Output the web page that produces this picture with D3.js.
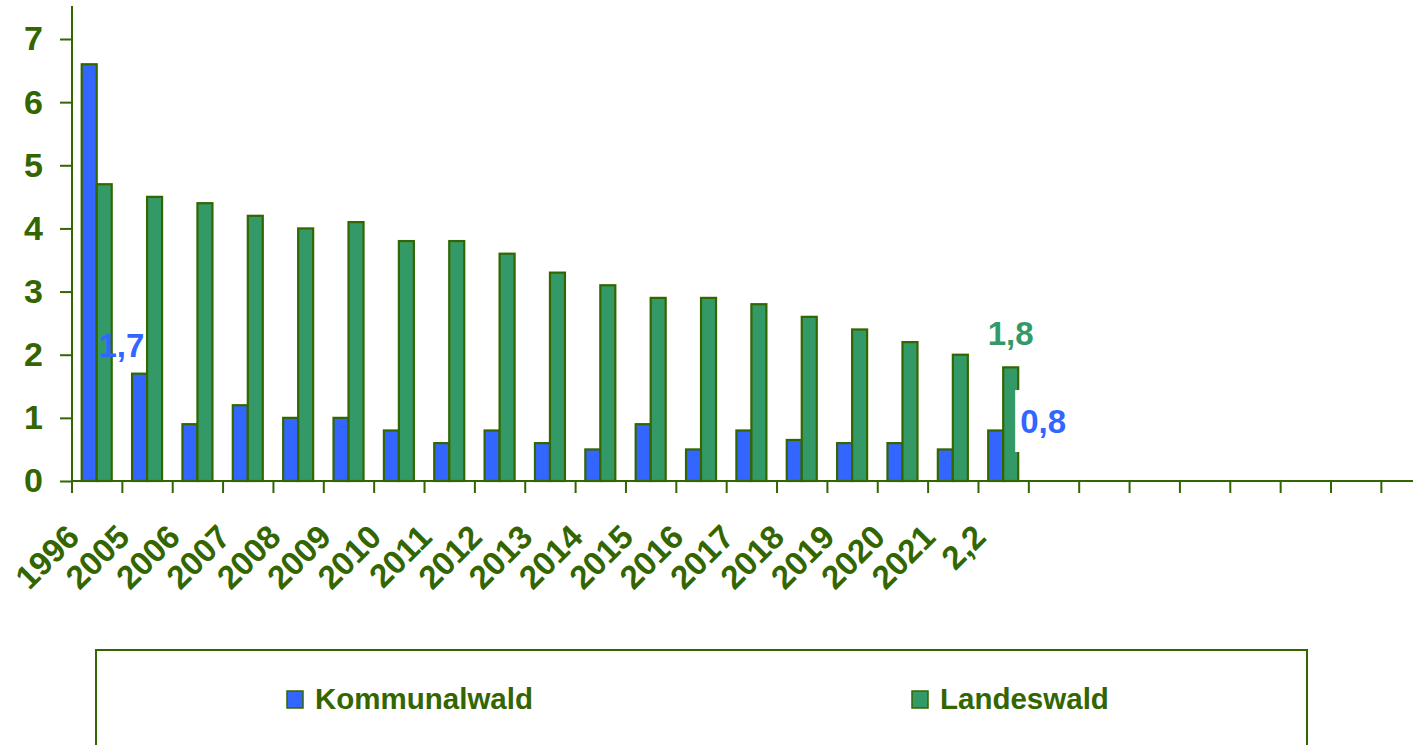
<!DOCTYPE html>
<html>
<head>
<meta charset="utf-8">
<script src="https://cdn.jsdelivr.net/npm/d3@7"></script>
<style>
  body { margin: 0; background: #fff; }
  svg { display: block; font-family: "Liberation Sans", Arial, sans-serif; font-weight: bold; }
</style>
</head>
<body>
<script>
// chart data
var categories = ["1996", "2005", "2006", "2007", "2008", "2009", "2010", "2011", "2012",
                  "2013", "2014", "2015", "2016", "2017", "2018", "2019", "2020", "2021", "2,2"];
var emptySlots = 8;
var kommunalwald = [6.6, 1.7, 0.9, 1.2, 1.0, 1.0, 0.8, 0.6, 0.8, 0.6, 0.5, 0.9, 0.5, 0.8, 0.65, 0.6, 0.6, 0.5, 0.8];
var landeswald   = [4.7, 4.5, 4.4, 4.2, 4.0, 4.1, 3.8, 3.8, 3.6, 3.3, 3.1, 2.9, 2.9, 2.8, 2.6, 2.4, 2.2, 2.0, 1.8];
var seriesNames = ["Kommunalwald", "Landeswald"];
var yTicks = [0, 1, 2, 3, 4, 5, 6, 7];

var svgWidth = 1413;
var svgHeight = 745;
var dark = "#336600";
var colors = {"Kommunalwald": "#3366FF", "Landeswald": "#339966"};

var svg = d3.select("body").append("svg")
            .attr("width", svgWidth)
            .attr("height", svgHeight);

var x0 = 72, y0 = 481, yTop = 39;
var step = 50.36;
var slots = d3.range(categories.length + emptySlots);

var xBand = d3.scaleBand()
              .domain(slots)
              .range([x0, x0 + slots.length * step])
              .padding(0);

var xInner = d3.scaleBand()
               .domain(seriesNames)
               .range([step * 0.193, step * 0.193 + 30]);

var y = d3.scaleLinear().domain([0, 7]).range([y0, yTop]);

// y axis
var yAxis = svg.append("g")
               .attr("transform", `translate(${x0},0)`)
               .call(d3.axisLeft(y).tickValues(yTicks).tickSize(12).tickPadding(17).tickFormat(d3.format("d")));
yAxis.select(".domain").remove();
yAxis.selectAll("line").attr("stroke", dark).attr("stroke-width", 2);
yAxis.selectAll("text").attr("fill", dark).attr("font-size", 34).attr("font-weight", "bold");
svg.append("line")
   .attr("x1", x0).attr("x2", x0).attr("y1", 6).attr("y2", y0)
   .attr("stroke", dark).attr("stroke-width", 2);

// bars
var rows = categories.map(function(c, i) {
  return {slot: i, label: c, values: [kommunalwald[i], landeswald[i]]};
});

var groups = svg.selectAll(".grp")
                .data(rows)
                .enter()
                .append("g")
                .attr("transform", d => `translate(${xBand(d.slot)},0)`);

groups.selectAll("rect")
      .data(d => seriesNames.map((s, k) => ({name: s, value: d.values[k]})))
      .enter()
      .append("rect")
      .attr("x", d => xInner(d.name))
      .attr("width", xInner.bandwidth())
      .attr("y", d => y(d.value))
      .attr("height", d => y0 - y(d.value))
      .attr("fill", d => colors[d.name])
      .attr("stroke", dark)
      .attr("stroke-width", 2.2);

// x axis line + ticks at band boundaries
svg.append("line")
   .attr("x1", x0).attr("x2", svgWidth).attr("y1", y0).attr("y2", y0)
   .attr("stroke", dark).attr("stroke-width", 2);
svg.selectAll(".xtick")
   .data(slots)
   .enter()
   .append("line")
   .attr("x1", d => xBand(d)).attr("x2", d => xBand(d))
   .attr("y1", y0).attr("y2", y0 + 12)
   .attr("stroke", dark).attr("stroke-width", 2);

// rotated category labels
svg.selectAll(".xlab")
   .data(rows)
   .enter()
   .append("text")
   .attr("transform", d => `translate(${xBand(d.slot) + xBand.bandwidth() / 2 - 16},${y0 + 58}) rotate(-45)`)
   .attr("text-anchor", "end")
   .attr("fill", dark)
   .attr("font-size", 33)
   .text(d => d.label);

// value labels
var last = categories.length - 1;
svg.append("text")
   .attr("x", xBand(1) - 1)
   .attr("y", 357)
   .attr("text-anchor", "middle")
   .attr("fill", colors.Kommunalwald)
   .attr("font-size", 33)
   .text("1,7");

svg.append("text")
   .attr("x", xBand(last) + xInner("Landeswald") + xInner.bandwidth() / 2)
   .attr("y", y(landeswald[last]) - 22)
   .attr("text-anchor", "middle")
   .attr("fill", colors.Landeswald)
   .attr("font-size", 33)
   .text("1,8");

var lblX = xBand(last) + xInner("Landeswald") + xInner.bandwidth() + 2;
svg.append("rect")
   .attr("x", lblX - 5).attr("y", 390)
   .attr("width", 60).attr("height", 62)
   .attr("fill", "#fff");
svg.append("text")
   .attr("x", lblX)
   .attr("y", 433)
   .attr("fill", colors.Kommunalwald)
   .attr("font-size", 33)
   .text("0,8");

// legend
svg.append("rect")
   .attr("x", 96).attr("y", 650)
   .attr("width", 1211).attr("height", 130)
   .attr("fill", "none")
   .attr("stroke", dark)
   .attr("stroke-width", 2);

var legendX = [287, 912];
var legend = svg.selectAll(".leg")
                .data(seriesNames)
                .enter()
                .append("g")
                .attr("transform", (d, i) => `translate(${legendX[i]},691)`);
legend.append("rect")
      .attr("width", 16).attr("height", 17)
      .attr("fill", d => colors[d])
      .attr("stroke", dark)
      .attr("stroke-width", 1.5);
legend.append("text")
      .attr("x", 28).attr("y", 18)
      .attr("fill", dark)
      .attr("font-size", 29.5)
      .text(d => d);
</script>
</body>
</html>
